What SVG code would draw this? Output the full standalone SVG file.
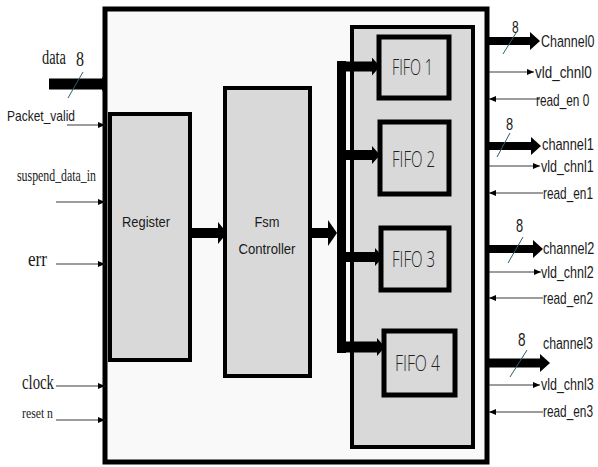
<svg xmlns="http://www.w3.org/2000/svg" width="598" height="467" viewBox="0 0 598 467">
<style>
.blk{stroke:#000;fill:#d9d9d9}
.sans{font-family:"Liberation Sans",Arial,sans-serif;fill:#1a1a1a}
.serif{font-family:"Liberation Serif","Times New Roman",serif;fill:#1a1a1a}
.fifo{font-family:"Open Sans","DejaVu Sans",sans-serif;font-weight:300;fill:#222;font-size:22px}
.rl{font-family:"Liberation Sans",Arial,sans-serif;fill:#1a1a1a;font-size:16px}
.thin{stroke:#3a3a3a;stroke-width:1.2;fill:none}
.bus{stroke:#000;fill:none}
.slash{stroke:#2e5e6e;stroke-width:1}
</style>
<defs>
<marker id="ah" markerUnits="userSpaceOnUse" markerWidth="7" markerHeight="6" refX="7" refY="3" orient="auto"><path d="M0,0 L7,3 L0,6 z" fill="#000"/></marker>
<marker id="ob" markerUnits="userSpaceOnUse" markerWidth="10" markerHeight="18" refX="0" refY="9" orient="auto"><path d="M0,0 L10,9 L0,18 z" fill="#000"/></marker>
<marker id="br" markerUnits="userSpaceOnUse" markerWidth="8" markerHeight="18" refX="0" refY="9" orient="auto"><path d="M0,0 L8,9 L0,18 z" fill="#000"/></marker>
<marker id="rf" markerUnits="userSpaceOnUse" markerWidth="9" markerHeight="22" refX="0" refY="11" orient="auto"><path d="M0,0 L9,11 L0,22 z" fill="#000"/></marker>
<marker id="fb" markerUnits="userSpaceOnUse" markerWidth="9" markerHeight="26" refX="0" refY="13" orient="auto"><path d="M0,0 L9,13 L0,26 z" fill="#000"/></marker>
<marker id="dt" markerUnits="userSpaceOnUse" markerWidth="5" markerHeight="15" refX="0" refY="7.5" orient="auto"><path d="M0,0 L5,7.5 L0,15 z" fill="#000"/></marker>
</defs>

<g id="top">
<rect x="105" y="9" width="382" height="453" fill="#f9f9f9" stroke="#000" stroke-width="5"/>
</g>

<g id="register">
<rect class="blk" x="110" y="114" width="80" height="246" stroke-width="4"/>
<text class="sans" x="122" y="227" font-size="15" textLength="48" lengthAdjust="spacingAndGlyphs">Register</text>
</g>

<g id="fsm">
<rect class="blk" x="225" y="88" width="85" height="288" stroke-width="4"/>
<text class="sans" x="267" y="227" font-size="15" text-anchor="middle" textLength="25" lengthAdjust="spacingAndGlyphs">Fsm</text>
<text class="sans" x="267" y="254" font-size="15" text-anchor="middle" textLength="57" lengthAdjust="spacingAndGlyphs">Controller</text>
</g>

<g id="fifo_block">
<rect class="blk" x="352" y="27" width="121" height="420" stroke-width="4"/>
</g>

<g id="fifo1">
<rect class="blk" x="379" y="37" width="70" height="61" stroke-width="5"/>
<text class="fifo" x="392" y="75" textLength="41" lengthAdjust="spacingAndGlyphs">FIFO 1</text>
</g>
<g id="fifo2">
<rect class="blk" x="380" y="122" width="69" height="72" stroke-width="5"/>
<text class="fifo" x="392" y="167" textLength="43" lengthAdjust="spacingAndGlyphs">FIFO 2</text>
</g>
<g id="fifo3">
<rect class="blk" x="381" y="228" width="68" height="62" stroke-width="5"/>
<text class="fifo" x="392" y="267" textLength="43" lengthAdjust="spacingAndGlyphs">FIFO 3</text>
</g>
<g id="fifo4">
<rect class="blk" x="384" y="331" width="71" height="64" stroke-width="5"/>
<text class="fifo" x="395" y="371" textLength="45" lengthAdjust="spacingAndGlyphs">FIFO 4</text>
</g>

<g id="connectors">
<line class="bus" x1="190" y1="233" x2="218" y2="233" stroke-width="10" marker-end="url(#rf)"/>
<line class="bus" x1="310" y1="233" x2="328" y2="233" stroke-width="10" marker-end="url(#fb)"/>
<rect x="337" y="61" width="9" height="292" fill="#000"/>
<line class="bus" x1="337" y1="66.5" x2="372" y2="66.5" stroke-width="10" marker-end="url(#br)"/>
<line class="bus" x1="337" y1="155" x2="372" y2="155" stroke-width="10" marker-end="url(#br)"/>
<line class="bus" x1="337" y1="257" x2="375" y2="257" stroke-width="10" marker-end="url(#br)"/>
<line class="bus" x1="337" y1="347" x2="377" y2="347" stroke-width="11" marker-end="url(#br)"/>

<line class="bus" x1="49" y1="84" x2="102" y2="84" stroke-width="11" marker-end="url(#dt)"/>
<line class="slash" x1="68" y1="98" x2="83" y2="72"/>
<line class="thin" x1="67" y1="125" x2="105" y2="125" marker-end="url(#ah)"/>
<line class="thin" x1="56" y1="202" x2="105" y2="202" marker-end="url(#ah)"/>
<line class="thin" x1="56" y1="264" x2="105" y2="264" marker-end="url(#ah)"/>
<line class="thin" x1="56" y1="386" x2="105" y2="386" marker-end="url(#ah)"/>
<line class="thin" x1="56" y1="420" x2="105" y2="420" marker-end="url(#ah)"/>

<line class="bus" x1="489" y1="41" x2="530" y2="41" stroke-width="8" marker-end="url(#ob)"/>
<line class="slash" x1="503" y1="54" x2="516" y2="33"/>
<line class="thin" x1="489" y1="72" x2="534" y2="72" marker-end="url(#ah)"/>
<line class="thin" x1="540" y1="99" x2="489" y2="99" marker-end="url(#ah)"/>

<line class="bus" x1="489" y1="146" x2="531" y2="146" stroke-width="8" marker-end="url(#ob)"/>
<line class="slash" x1="497" y1="157" x2="510" y2="133"/>
<line class="thin" x1="489" y1="166" x2="540" y2="166" marker-end="url(#ah)"/>
<line class="thin" x1="543" y1="193" x2="489" y2="193" marker-end="url(#ah)"/>

<line class="bus" x1="489" y1="249" x2="533" y2="249" stroke-width="8" marker-end="url(#ob)"/>
<line class="slash" x1="508" y1="263" x2="523" y2="237"/>
<line class="thin" x1="489" y1="272" x2="541" y2="272" marker-end="url(#ah)"/>
<line class="thin" x1="543" y1="298" x2="489" y2="298" marker-end="url(#ah)"/>

<line class="bus" x1="489" y1="363" x2="540" y2="363" stroke-width="9" marker-end="url(#ob)"/>
<line class="slash" x1="510" y1="377" x2="527" y2="350"/>
<line class="thin" x1="489" y1="385" x2="540" y2="385" marker-end="url(#ah)"/>
<line class="thin" x1="543" y1="412" x2="489" y2="412" marker-end="url(#ah)"/>
</g>

<g id="labels">
<text class="serif" x="42" y="64" font-size="20" textLength="24" lengthAdjust="spacingAndGlyphs">data</text>
<text class="serif" x="76" y="66" font-size="20" textLength="8" lengthAdjust="spacingAndGlyphs">8</text>
<text class="sans" x="7" y="121" font-size="15" textLength="68" lengthAdjust="spacingAndGlyphs">Packet_valid</text>
<text class="serif" x="17" y="181" font-size="17" textLength="79" lengthAdjust="spacingAndGlyphs">suspend_data_in</text>
<text class="serif" x="28" y="266" font-size="20" textLength="19" lengthAdjust="spacingAndGlyphs">err</text>
<text class="serif" x="22" y="389" font-size="22" textLength="32" lengthAdjust="spacingAndGlyphs">clock</text>
<text class="serif" x="22" y="418" font-size="15" textLength="31" lengthAdjust="spacingAndGlyphs">reset n</text>

<text class="rl" transform="translate(512,33) scale(0.75,1)">8</text>
<text class="rl" transform="translate(541,47) scale(0.78,1.05)">Channel0</text>
<text class="rl" transform="translate(535,78) scale(0.84,1)">vld_chnl0</text>
<text class="rl" transform="translate(536,106) scale(0.74,1)">read_en 0</text>

<text class="rl" transform="translate(506,130) scale(0.8,1.05)">8</text>
<text class="rl" transform="translate(542,150) scale(0.8,1)">channel1</text>
<text class="rl" transform="translate(541,172) scale(0.78,1)">vld_chnl1</text>
<text class="rl" transform="translate(543,199) scale(0.74,1)">read_en1</text>

<text class="rl" transform="translate(516,232) scale(0.8,1.1)">8</text>
<text class="rl" transform="translate(543,254) scale(0.79,1)">channel2</text>
<text class="rl" transform="translate(541,278) scale(0.78,1)">vld_chnl2</text>
<text class="rl" transform="translate(543,304) scale(0.74,1)">read_en2</text>

<text class="rl" transform="translate(518,346) scale(0.85,1.1)">8</text>
<text class="rl" transform="translate(543,349) scale(0.77,1)">channel3</text>
<text class="rl" transform="translate(541,390) scale(0.78,1)">vld_chnl3</text>
<text class="rl" transform="translate(543,417) scale(0.74,1)">read_en3</text>
</g>
</svg>
